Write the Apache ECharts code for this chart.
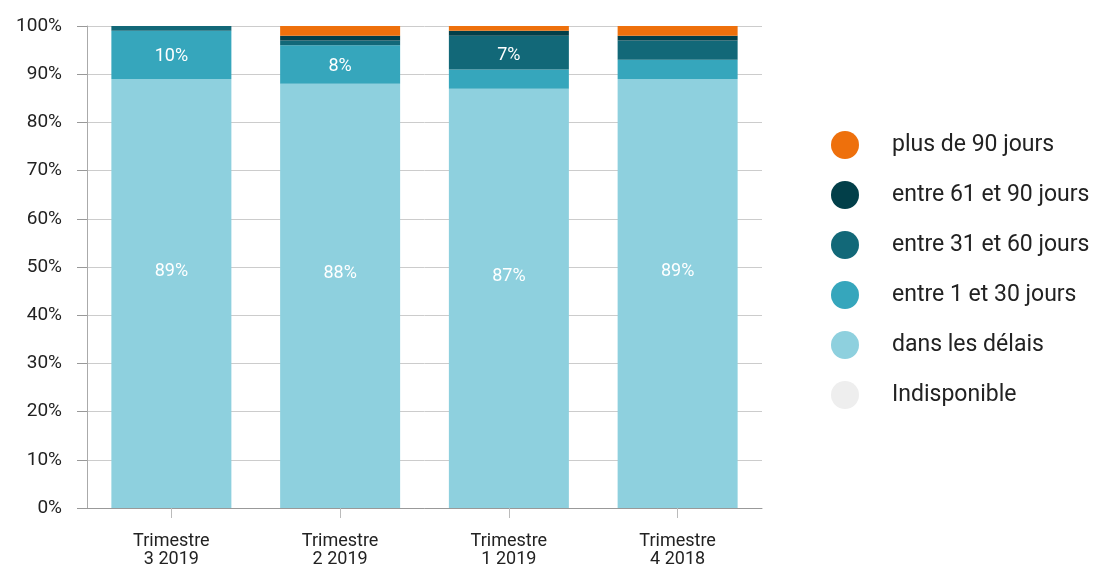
<!DOCTYPE html>
<html>
<head>
<meta charset="utf-8">
<script src="https://cdn.jsdelivr.net/npm/echarts@6/dist/echarts.min.js"></script>
<style>html,body{margin:0;padding:0;background:#fff;}#c{width:1094px;height:574px;}</style>
</head>
<body>
<div id="c"></div>
<script>
const categories = ['Trimestre\n3 2019', 'Trimestre\n2 2019', 'Trimestre\n1 2019', 'Trimestre\n4 2018'];
const dansLesDelais = [89, 88, 87, 89];
const entre1et30 = [10, 8, 4, 4];
const entre31et60 = [1.3, 1, 7, 4];
const entre61et90 = [0, 1, 1, 1];
const plusDe90 = [0, 2.2, 1.3, 2.2];
const indisponible = [0, 0, 0, 0];
const yTicks = [0, 10, 20, 30, 40, 50, 60, 70, 80, 90, 100];

const font = 'Roboto, "Noto Sans", sans-serif';
const seriesDefs = [
  { name: 'dans les délais', data: dansLesDelais, color: '#8ed0de', offset: [0, -22] },
  { name: 'entre 1 et 30 jours', data: entre1et30, color: '#36a6bc', offset: [0, 2] },
  { name: 'entre 31 et 60 jours', data: entre31et60, color: '#126878', offset: [0, 3] },
  { name: 'entre 61 et 90 jours', data: entre61et90, color: '#023f49', offset: [0, 0] },
  { name: 'plus de 90 jours', data: plusDe90, color: '#ee700c', offset: [0, 0] },
  { name: 'Indisponible', data: indisponible, color: '#eeeeee', offset: [0, 0] }
];

const chart = echarts.init(document.getElementById('c'));
chart.setOption({
  animation: false,
  textStyle: { fontFamily: font },
  grid: { left: 87, right: 332, top: 26, bottom: 66 },
  legend: {
    orient: 'vertical',
    left: 831,
    top: 131,
    padding: 0,
    icon: 'circle',
    itemWidth: 28,
    itemHeight: 28,
    itemGap: 22,
    data: ['plus de 90 jours', 'entre 61 et 90 jours', 'entre 31 et 60 jours', 'entre 1 et 30 jours', 'dans les délais', 'Indisponible'],
    textStyle: { fontSize: 23, color: '#222', fontFamily: font, padding: [0, 0, 0, 28] }
  },
  xAxis: {
    type: 'category',
    data: categories,
    axisLine: { lineStyle: { color: '#999' } },
    axisTick: { show: true, alignWithLabel: true, length: 10, lineStyle: { color: '#bbb' } },
    axisLabel: { color: '#222', fontSize: 18, lineHeight: 18, margin: 24, fontFamily: font }
  },
  yAxis: {
    type: 'value',
    min: 0,
    max: 100,
    interval: 10,
    axisLine: { show: true, lineStyle: { color: '#aaa' } },
    axisTick: { show: true, length: 10, lineStyle: { color: '#999' } },
    splitLine: { lineStyle: { color: '#ccc' } },
    axisLabel: {
      color: '#222', fontSize: 19, margin: 25, fontFamily: font,
      formatter: v => (yTicks.indexOf(v) >= 0 ? v + '%' : '')
    }
  },
  series: seriesDefs.map(s => ({
    name: s.name,
    type: 'bar',
    stack: 'total',
    barWidth: 120,
    data: s.data,
    itemStyle: { color: s.color },
    label: {
      show: true,
      position: 'inside',
      offset: s.offset,
      color: '#fff',
      fontSize: 18,
      fontWeight: 'normal',
      fontFamily: font,
      formatter: p => (p.value >= 5 ? Math.round(p.value) + '%' : '')
    }
  }))
});
</script>
</body>
</html>
